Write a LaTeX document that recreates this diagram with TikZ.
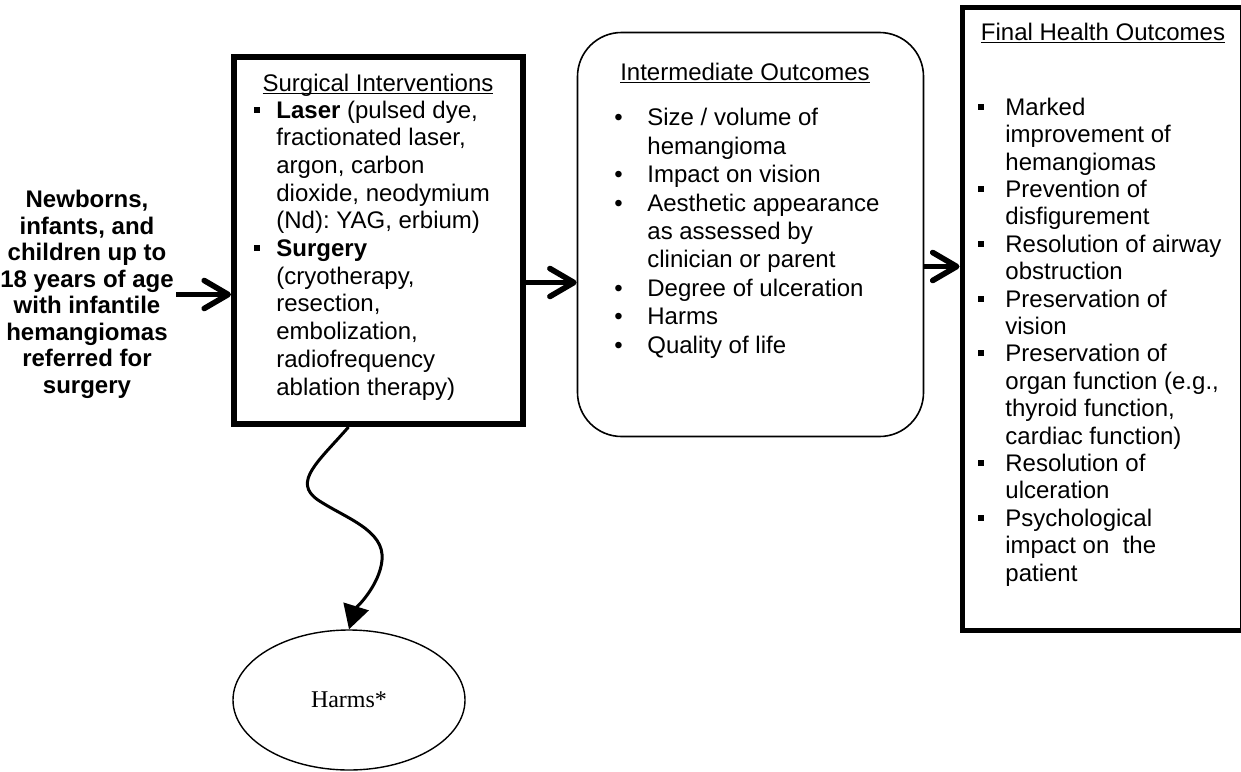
\documentclass[tikz,border=0pt]{standalone}
\usepackage{fontspec}
\setmainfont{Liberation Sans}
\newfontfamily\harmsfont{Liberation Serif}
\usetikzlibrary{arrows.meta, shapes.geometric}
\frenchspacing

\newcommand{\sqbul}{\rule[2.7pt]{3pt}{3pt}}
\newcommand{\bul}[2]{\makebox[#1][l]{#2}}
\newcommand{\cont}[1]{\hspace*{#1}}
\newcommand{\ulined}[1]{\setbox0\hbox{#1}\rlap{\rule[-1.6pt]{\wd0}{0.5pt}}\box0}

\tikzset{
  surgbox/.style  = {rectangle, draw, line width=3pt, inner sep=0pt,
                     minimum width=144.5pt, minimum height=183.5pt},
  midbox/.style   = {rectangle, rounded corners=22pt, draw, line width=0.8pt, inner sep=0pt,
                     minimum width=173pt, minimum height=202pt},
  finalbox/.style = {rectangle, draw, line width=2.5pt, inner sep=0pt,
                     minimum width=140pt, minimum height=311.25pt},
  harmnode/.style = {ellipse, draw, line width=0.7pt, inner sep=0pt,
                     minimum width=116pt, minimum height=70pt,
                     font=\harmsfont\fontsize{12}{14}\selectfont},
  ttl/.style      = {anchor=base, inner sep=0pt, font=\fontsize{12}{14}\selectfont},
  lst/.style      = {anchor=base west, inner sep=0pt, align=left},
  flow/.style     = {-{Straight Barb[length=12pt, width=14pt, round]}, line width=2.8pt},
  harmflow/.style = {-{Triangle[length=12pt, width=13pt]}, line width=1.5pt},
}

\begin{document}
\begin{tikzpicture}[x=0.5pt, y=-0.5pt]
    \useasboundingbox (0,0) rectangle (1241,771);

    % population
    \node[font=\bfseries\fontsize{12}{13.25}\selectfont, align=center, inner sep=1pt] (intro) at (87,294.5)
      {Newborns,\\ infants, and\\ children up to\\ 18 years of age\\ with infantile\\
       hemangiomas\\ referred for\\ surgery};

    % boxes
    \node[surgbox]  (surg)  at (378.5,240.5) {};
    \node[midbox]   (inter) at (750.5,234.5) {};
    \node[finalbox] (final) at (1102,318.75) {};
    \node[harmnode] (harms) at (349,700) {Harms*};

    % surgical interventions (lists placed by their last baseline)
    \node[ttl] (surgttl) at (378,91) {\ulined{Surgical Interventions}};
    \node[lst, font=\fontsize{12}{13.85}\selectfont] (surglist) at (254,395) {%
      \bul{11pt}{\sqbul}\textbf{Laser} (pulsed dye,\\
      \cont{11pt}fractionated laser,\\
      \cont{11pt}argon, carbon\\
      \cont{11pt}dioxide, neodymium\\
      \cont{11pt}(Nd): YAG, erbium)\\
      \bul{11pt}{\sqbul}\textbf{Surgery}\\
      \cont{11pt}(cryotherapy,\\
      \cont{11pt}resection,\\
      \cont{11pt}embolization,\\
      \cont{11pt}radiofrequency\\
      \cont{11pt}ablation therapy)};

    % intermediate outcomes
    \node[ttl] (interttl) at (745,80) {\ulined{Intermediate Outcomes}};
    \node[lst, font=\fontsize{12}{14.2}\selectfont] (interlist) at (614,353) {%
      \bul{16.5pt}{\textbullet}Size / volume of\\
      \cont{16.5pt}hemangioma\\
      \bul{16.5pt}{\textbullet}Impact on vision\\
      \bul{16.5pt}{\textbullet}Aesthetic appearance\\
      \cont{16.5pt}as assessed by\\
      \cont{16.5pt}clinician or parent\\
      \bul{16.5pt}{\textbullet}Degree of ulceration\\
      \bul{16.5pt}{\textbullet}Harms\\
      \bul{16.5pt}{\textbullet}Quality of life};

    % final health outcomes
    \node[ttl] (finalttl) at (1103,40) {\ulined{Final Health Outcomes}};
    \node[lst, font=\fontsize{12}{13.7}\selectfont] (finallist) at (978,581) {%
      \bul{13.5pt}{\sqbul}Marked\\
      \cont{13.5pt}improvement of\\
      \cont{13.5pt}hemangiomas\\
      \bul{13.5pt}{\sqbul}Prevention of\\
      \cont{13.5pt}disfigurement\\
      \bul{13.5pt}{\sqbul}Resolution of airway\\
      \cont{13.5pt}obstruction\\
      \bul{13.5pt}{\sqbul}Preservation of\\
      \cont{13.5pt}vision\\
      \bul{13.5pt}{\sqbul}Preservation of\\
      \cont{13.5pt}organ function (e.g.,\\
      \cont{13.5pt}thyroid function,\\
      \cont{13.5pt}cardiac function)\\
      \bul{13.5pt}{\sqbul}Resolution of\\
      \cont{13.5pt}ulceration\\
      \bul{13.5pt}{\sqbul}Psychological\\
      \cont{13.5pt}impact on\ \ the\\
      \cont{13.5pt}patient};

    % connectors
    \draw[flow] (intro.east) -- (intro.east -| surg.west);
    \draw[flow] ([yshift=-21pt]surg.east) -- ([yshift=-21pt]surg.east -| inter.west);
    \draw[flow] ([yshift=-16pt]inter.east) -- ([yshift=-16pt]inter.east -| final.west);
    \draw[harmflow] ([xshift=-15pt]surg.south) .. controls (318,462) and (292,482) .. (318,500)
      .. controls (345,518) and (385,530) .. (382,560)
      .. controls (380,585) and (355,610) .. (harms.north);
\end{tikzpicture}
\end{document}
